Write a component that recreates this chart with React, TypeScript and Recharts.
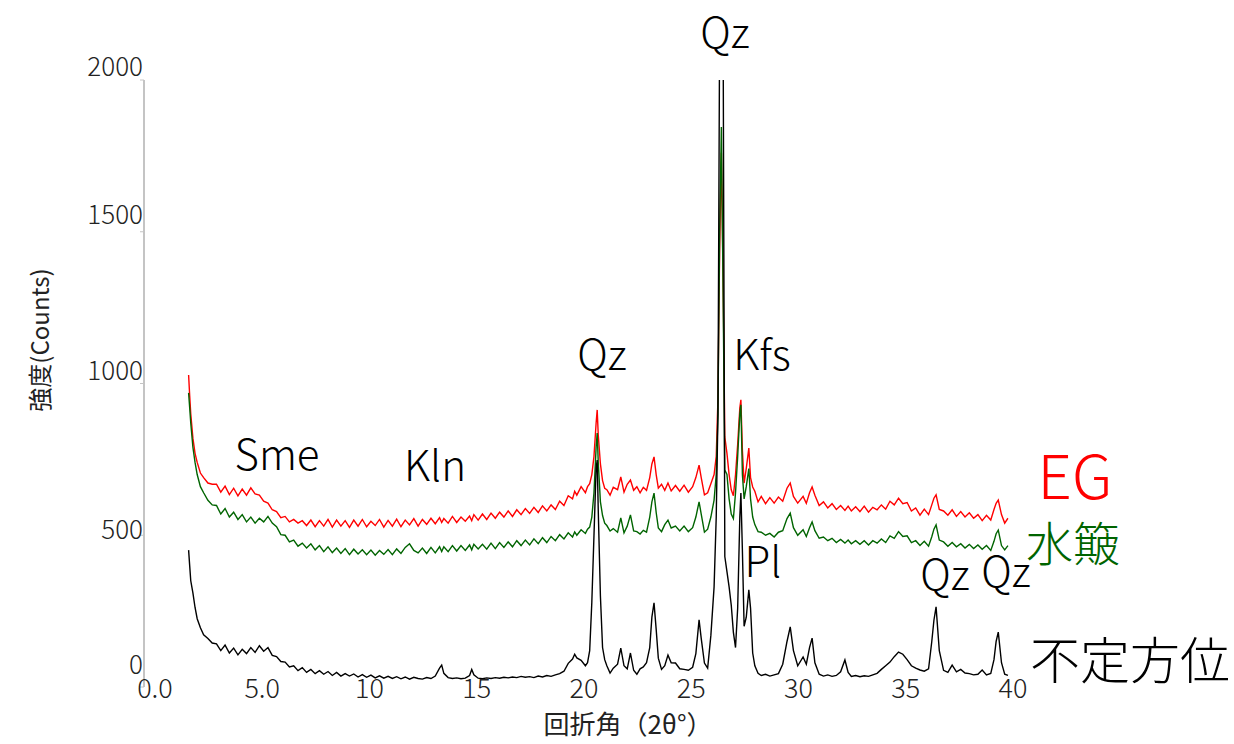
import { LineChart, Line, XAxis, YAxis } from "recharts";

// 2θ positions (deg)
const angles = [
  1.8, 1.85, 1.9, 2.0, 2.1, 2.2, 2.35, 2.5, 2.7, 2.9,
  3.1, 3.3, 3.5, 3.7, 3.9, 4.1, 4.3, 4.5, 4.7, 4.9,
  5.1, 5.3, 5.5, 5.7, 5.9, 6.1, 6.3, 6.5, 6.7, 6.9,
  7.1, 7.3, 7.5, 7.7, 7.9, 8.1, 8.3, 8.5, 8.7, 8.9,
  9.1, 9.3, 9.5, 9.7, 9.9, 10.1, 10.3, 10.5, 10.7, 10.9,
  11.1, 11.3, 11.5, 11.7, 11.9, 12.1, 12.3, 12.5, 12.7, 12.9,
  13.1, 13.3, 13.5, 13.6, 13.7, 13.9, 14.1, 14.3, 14.5, 14.7,
  14.9, 15.0, 15.1, 15.3, 15.5, 15.7, 15.9, 16.1, 16.3, 16.5,
  16.7, 16.9, 17.1, 17.3, 17.5, 17.7, 17.9, 18.1, 18.3, 18.5,
  18.7, 18.9, 19.1, 19.3, 19.5, 19.7, 19.8, 19.9, 20.1, 20.3,
  20.4, 20.5, 20.6, 20.7, 20.8, 20.85, 20.9, 21.0, 21.1, 21.2,
  21.3, 21.45, 21.6, 21.8, 21.95, 22.1, 22.25, 22.4, 22.55, 22.7,
  22.85, 23.0, 23.15, 23.3, 23.4, 23.5, 23.6, 23.7, 23.85, 24.0,
  24.15, 24.3, 24.5, 24.7, 24.9, 25.1, 25.3, 25.45, 25.6, 25.7,
  25.85, 26.0, 26.15, 26.3, 26.4, 26.48, 26.56, 26.64, 26.72, 26.8,
  26.9, 27.0, 27.1, 27.2, 27.3, 27.4, 27.5, 27.55, 27.62, 27.7,
  27.8, 27.92, 28.0, 28.1, 28.2, 28.35, 28.5, 28.7, 28.9, 29.1,
  29.3, 29.5, 29.7, 29.85, 30.0, 30.2, 30.45, 30.6, 30.75, 30.87,
  31.0, 31.2, 31.4, 31.6, 31.8, 32.0, 32.2, 32.4, 32.55, 32.7,
  32.9, 33.1, 33.3, 33.5, 33.7, 33.9, 34.1, 34.3, 34.5, 34.7,
  34.9, 35.1, 35.3, 35.5, 35.7, 35.9, 36.1, 36.3, 36.45, 36.55,
  36.65, 36.8, 37.0, 37.2, 37.4, 37.6, 37.8, 38.0, 38.2, 38.4,
  38.6, 38.8, 39.0, 39.2, 39.35, 39.45, 39.55, 39.7, 39.85, 40.0,
];

// EG (red)
const egCounts = [
  1028, 960, 900, 820, 770, 740, 705, 690, 672, 668,
  668, 642, 662, 634, 655, 630, 652, 632, 656, 636,
  632, 612, 606, 584, 578, 558, 562, 544, 552, 540,
  548, 532, 550, 528, 548, 530, 552, 527, 550, 530,
  548, 526, 550, 530, 552, 528, 546, 532, 552, 527,
  549, 530, 553, 528, 550, 534, 555, 530, 552, 536,
  556, 538, 558, 542, 555, 540, 562, 542, 560, 546,
  563, 548, 568, 550, 570, 552, 573, 556, 576, 560,
  580, 562, 584, 568, 588, 572, 592, 575, 597, 580,
  600, 585, 612, 598, 630, 620, 645, 632, 660, 640,
  660, 670, 700, 760, 870, 913, 830, 735, 680, 655,
  650, 632, 658, 650, 692, 642, 668, 682, 648, 660,
  640, 658, 648, 690, 735, 758, 700, 655, 668, 648,
  672, 646, 664, 645, 665, 642, 660, 690, 731, 690,
  633, 640, 670, 700, 760, 950, 1450, 1760, 1350, 824,
  770, 700, 650, 630, 700, 800, 920, 946, 780, 672,
  720, 787, 690, 659, 645, 610, 628, 604, 624, 606,
  626, 612, 655, 672, 628, 606, 628, 605, 640, 659,
  632, 598, 610, 590, 604, 585, 598, 582, 596, 580,
  594, 578, 596, 576, 592, 584, 600, 586, 612, 600,
  622, 604, 608, 580, 590, 566, 586, 568, 600, 622,
  633, 585, 580, 566, 584, 562, 578, 560, 574, 556,
  568, 548, 566, 550, 585, 605, 616, 568, 540, 556,
];

// 水簸 (green)
const suihiCounts = [
  969, 920, 870, 790, 740, 700, 660, 640, 615, 600,
  598, 570, 588, 560, 576, 552, 568, 544, 560, 540,
  556, 544, 562, 540, 528, 502, 500, 478, 484, 464,
  474, 458, 472, 452, 466, 446, 462, 443, 458, 440,
  456, 436, 454, 438, 452, 436, 451, 434, 450, 437,
  453, 436, 455, 440, 460, 472, 450, 442, 458, 440,
  460, 442, 462, 446, 462, 446, 466, 448, 466, 450,
  468, 452, 470, 455, 470, 454, 474, 456, 476, 460,
  478, 462, 482, 466, 484, 468, 488, 472, 492, 476,
  496, 482, 502, 488, 508, 494, 511, 500, 518, 506,
  520, 527, 560, 640, 790, 837, 740, 610, 565, 540,
  532, 514, 522, 510, 557, 508, 530, 567, 514, 512,
  504, 516, 510, 560, 610, 639, 575, 524, 512, 535,
  550, 524, 530, 514, 530, 512, 525, 560, 610, 570,
  510, 520, 560, 616, 700, 900, 1500, 1845, 1300, 715,
  700, 620, 570, 555, 640, 760, 900, 930, 700, 620,
  660, 720, 620, 560, 535, 512, 510, 500, 506, 494,
  510, 515, 555, 573, 525, 500, 518, 496, 525, 544,
  515, 490, 494, 482, 490, 476, 486, 474, 484, 472,
  482, 470, 482, 468, 482, 474, 488, 476, 498, 490,
  512, 496, 498, 476, 482, 466, 480, 464, 495, 520,
  534, 484, 478, 464, 476, 462, 472, 458, 470, 456,
  468, 454, 466, 450, 480, 505, 517, 466, 452, 466,
];

// 不定方位 (black)
const randomCounts = [
  451, 400, 350, 310, 262, 225, 195, 172, 160, 145,
  142, 120, 138, 112, 128, 106, 124, 110, 130, 114,
  136, 118, 130, 104, 100, 84, 82, 66, 70, 54,
  64, 48, 58, 44, 54, 42, 51, 38, 48, 36,
  44, 36, 43, 33, 41, 32, 39, 30, 37, 29,
  35, 28, 34, 27, 33, 26, 32, 28, 26, 31,
  28, 36, 62, 72, 45, 31, 28, 30, 27, 29,
  38, 58, 40, 29, 27, 30, 28, 31, 29, 32,
  30, 33, 31, 35, 32, 34, 31, 36, 33, 38,
  35, 40, 44, 52, 78, 92, 108, 96, 88, 70,
  80, 120, 280, 500, 720, 748, 580, 300, 130, 90,
  70, 46, 62, 75, 128, 70, 60, 112, 55, 42,
  60, 66, 80, 130, 230, 277, 190, 95, 58, 70,
  105, 80, 79, 60, 58, 55, 65, 110, 221, 160,
  79, 62, 170, 330, 560, 900, 2200, 2400, 2200, 430,
  380, 330, 270, 180, 130, 260, 560, 639, 450, 200,
  230, 320, 260, 112, 70, 45, 38, 42, 36, 40,
  44, 75, 150, 198, 120, 70, 99, 75, 130, 161,
  80, 42, 36, 40, 35, 38, 50, 89, 48, 35,
  38, 34, 37, 35, 40, 45, 58, 70, 82, 100,
  115, 108, 90, 70, 62, 56, 52, 60, 150, 220,
  264, 120, 55, 48, 72, 50, 58, 46, 44, 40,
  42, 56, 40, 45, 90, 150, 181, 80, 42, 38,
];

const yTicks = [0, 500, 1000, 1500, 2000];
const xTicks = [0, 5, 10, 15, 20, 25, 30, 35, 40];

const data = angles.map((a, i) => ({
  angle: a,
  eg: egCounts[i],
  suihi: suihiCounts[i],
  random: randomCounts[i],
}));

const FONT = "'Noto Sans CJK JP', 'Noto Sans', sans-serif";

// label nudges so the tick texts sit where the original put them
const yLabelShift: Record<number, number> = { 0: -25, 500: -8, 1000: -15, 1500: -19, 2000: -16 };

const XTick = (props: any) => {
  const { x, y, payload } = props;
  const v = payload.value;
  const label = v < 10 ? v.toFixed(1) : String(v);
  return (
    <text x={x + 5} y={y + 11} textAnchor="middle" fontSize={27} fontWeight={300} fill="#222" fontFamily={FONT}>
      {label}
    </text>
  );
};

const YTick = (props: any) => {
  const { x, y, payload } = props;
  return (
    <text
      x={x + 3}
      y={y + (yLabelShift[payload.value] ?? -15)}
      textAnchor="end"
      dominantBaseline="central"
      fontSize={26}
      fontWeight={300}
      fill="#222"
      fontFamily={FONT}
    >
      {payload.value}
    </text>
  );
};

const notes = [
  { text: "Qz", x: 725, y: 48, size: 42, color: "#000" },
  { text: "Qz", x: 602, y: 370, size: 42, color: "#000" },
  { text: "Kfs", x: 762, y: 370, size: 42, color: "#000" },
  { text: "Sme", x: 277, y: 470, size: 42, color: "#000" },
  { text: "Kln", x: 435, y: 481, size: 42, color: "#000" },
  { text: "Pl", x: 763, y: 577, size: 42, color: "#000" },
  { text: "Qz", x: 945, y: 590, size: 42, color: "#000" },
  { text: "Qz", x: 1006, y: 587, size: 42, color: "#000" },
  { text: "EG", x: 1075, y: 499, size: 60, color: "#ff0000" },
  { text: "水簸", x: 1073, y: 561, size: 47, color: "#006400" },
  { text: "不定方位", x: 1130, y: 679, size: 50, color: "#000" },
];

export default function App() {
  return (
    <div style={{ position: "absolute", left: 0, top: 0, width: 1234, height: 744, background: "#fff" }}>
      <LineChart
        width={1234}
        height={744}
        data={data}
        margin={{ top: 80, right: 219, bottom: 17, left: 84 }}
      >
        <XAxis
          type="number"
          dataKey="angle"
          domain={[-0.28, 40.33]}
          ticks={xTicks}
          allowDataOverflow
          axisLine={false}
          tickLine={false}
          tickSize={0}
          tickMargin={0}
          height={40}
          tick={<XTick />}
        />
        <YAxis
          type="number"
          domain={[0, 2000]}
          ticks={yTicks}
          allowDataOverflow
          width={60}
          axisLine={{ stroke: "#c4c4c4", strokeWidth: 2 }}
          tickLine={{ stroke: "#c4c4c4" }}
          tickSize={4}
          tickMargin={0}
          tick={<YTick />}
        />
        <Line type="linear" dataKey="eg" stroke="#ff0000" strokeWidth={1.4} dot={false} isAnimationActive={false} />
        <Line type="linear" dataKey="suihi" stroke="#006400" strokeWidth={1.4} dot={false} isAnimationActive={false} />
        <Line type="linear" dataKey="random" stroke="#000000" strokeWidth={1.4} dot={false} isAnimationActive={false} />
      </LineChart>
      <svg
        width={1234}
        height={744}
        style={{ position: "absolute", left: 0, top: 0, pointerEvents: "none" }}
      >
        <text
          x={38}
          y={340}
          transform="rotate(-90, 38, 340)"
          textAnchor="middle"
          dominantBaseline="central"
          fontSize={24}
          fill="#222"
          fontFamily={FONT}
        >
          強度(Counts)
        </text>
        <text x={628} y={734} textAnchor="middle" fontSize={26} fill="#222" fontFamily={FONT}>
          回折角（2θ°）
        </text>
        {notes.map((n, i) => (
          <text key={i} x={n.x} y={n.y} textAnchor="middle" fontSize={n.size} fontWeight={300} fill={n.color} fontFamily={FONT}>
            {n.text}
          </text>
        ))}
      </svg>
    </div>
  );
}
